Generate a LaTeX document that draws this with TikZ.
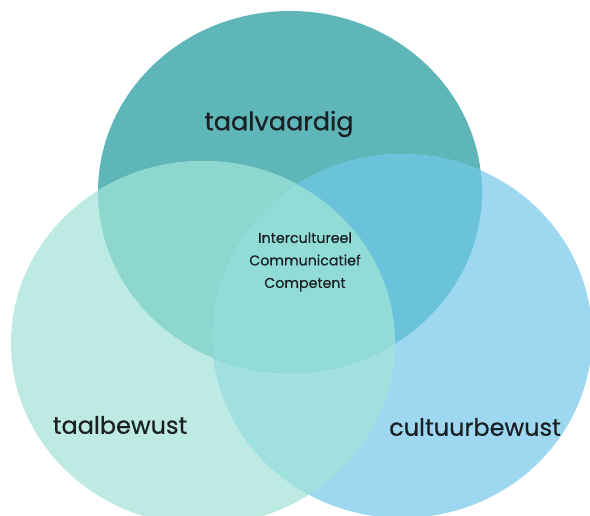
\documentclass[tikz,border=0pt]{standalone}
\usepackage{fontspec}
\setmainfont{Poppins}
\newfontfamily\lblfont{Poppins}[FakeBold=0.5]
\definecolor{cTop}{HTML}{5FB6B9}
\definecolor{cLeft}{HTML}{BDEAE2}
\definecolor{cRight}{HTML}{9DD8F0}
\definecolor{cTL}{HTML}{8DD7CF}
\definecolor{cTR}{HTML}{6AC3DB}
\definecolor{cLR}{HTML}{A0E0DF}
\definecolor{cAll}{HTML}{92DCD8}
\definecolor{txt}{HTML}{1A1F22}
\tikzset{lbl/.style={text=txt, font=\lblfont\fontsize{24}{28}\selectfont},
  midlbl/.style={text=txt, font=\lblfont\fontsize{14.2}{22.5}\selectfont, align=center}}
\newcommand{\topC}{(290,192) ellipse [x radius=192, y radius=181]}
\newcommand{\leftC}{(203,343) ellipse [x radius=192, y radius=182]}
\newcommand{\rightC}{(402,336) ellipse [x radius=190, y radius=182]}
\begin{document}
\begin{tikzpicture}[x=1pt,y=-1pt]
\useasboundingbox (0,0) rectangle (590,516);
\clip (0,0) rectangle (590,516);
\fill[white] (0,0) rectangle (590,516);
\fill[cTop] \topC;
\fill[cLeft] \leftC;
\fill[cRight] \rightC;
\begin{scope}
  \clip \leftC;
  \fill[cLR] \rightC;
\end{scope}
\begin{scope}
  \clip \topC;
  \fill[cTL] \leftC;
  \fill[cTR] \rightC;
  \clip \leftC;
  \fill[cAll] \rightC;
\end{scope}
\node[lbl, font=\lblfont\fontsize{25.5}{30}\selectfont] (ta) at (279,124) {taalvaardig};
\node[lbl] (tb) at (120,425) {taalbewust};
\node[lbl] (cb) at (475,427) {cultuurbewust};
\node[midlbl] (ic) at (305,262) {Intercultureel\\Communicatief\\Competent};
\end{tikzpicture}
\end{document}
